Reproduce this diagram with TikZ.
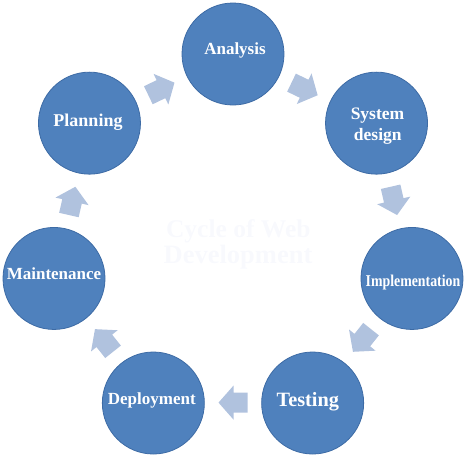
\documentclass[tikz,border=0pt]{standalone}
\usepackage{fontspec}
\usepackage{graphicx}
\usetikzlibrary{calc}
\setmainfont{Liberation Serif}
\definecolor{cfill}{HTML}{4F81BD}
\definecolor{cline}{HTML}{3D6BA5}
\definecolor{afill}{HTML}{B0C2DE}
\definecolor{ctext}{HTML}{F8F9FD}
\tikzset{
  phase/.style={circle, fill=cfill, draw=cline, line width=0.8pt, minimum size=102pt, inner sep=0pt},
  lbl/.style={text=white, font=\bfseries, anchor=base, inner sep=0pt},
  blockarrow/.style={fill=afill, draw=none}
}
\begin{document}
\begin{tikzpicture}[x=1pt,y=-1pt]
\useasboundingbox (0,0) rectangle (467,456);
\coordinate (C) at (233,237.6);
% circles
\node[phase] (analysis) at ($(C)+(-90:183.6)$) {};
\node[phase] (sysdesign) at ($(C)+(-38.571:183.6)$) {};
\node[phase] (impl) at ($(C)+(12.857:183.6)$) {};
\node[phase] (testing) at ($(C)+(64.286:183.6)$) {};
\node[phase] (deploy) at ($(C)+(115.714:183.6)$) {};
\node[phase] (maint) at ($(C)+(167.143:183.6)$) {};
\node[phase] (planning) at ($(C)+(218.571:183.6)$) {};
% block arrows
\foreach \k in {0,...,6}{
  \pgfmathsetmacro{\ang}{-90+51.4286*\k+25.714}
  \begin{scope}[shift={($(C)+(\ang:165)$)}, rotate=-\ang-90]
    \fill[blockarrow] (14.5,0) -- (-0.5,17) -- (-0.5,10) -- (-14.5,10) -- (-14.5,-10) -- (-0.5,-10) -- (-0.5,-17) -- cycle;
  \end{scope}
}
% labels
\node[lbl, font=\bfseries\fontsize{17}{20}\selectfont] (tA) at (235,54) {Analysis};
\node[lbl, font=\bfseries\fontsize{17.5}{20}\selectfont] (tS1) at (377.5,119.3) {System};
\node[lbl, font=\bfseries\fontsize{17.5}{20}\selectfont] (tS2) at (377.8,140) {design};
\node[lbl, font=\bfseries\fontsize{16.5}{20}\selectfont] (tI) at (413,286) {\scalebox{0.84}[1]{Implementation}};
\node[lbl, font=\bfseries\fontsize{20.3}{24}\selectfont] (tT) at (307.8,406) {Testing};
\node[lbl, font=\bfseries\fontsize{17}{20}\selectfont] (tD) at (151.8,404) {Deployment};
\node[lbl, font=\bfseries\fontsize{17}{20}\selectfont] (tM) at (54,279) {Maintenance};
\node[lbl, font=\bfseries\fontsize{18}{20}\selectfont] (tP) at (88,126.7) {Planning};
% centre title
\node[lbl, text=ctext, font=\bfseries\fontsize{25.5}{26}\selectfont] (c1) at (238.3,237) {Cycle of Web};
\node[lbl, text=ctext, font=\bfseries\fontsize{26.5}{26}\selectfont] (c2) at (238,263) {Development};
\end{tikzpicture}
\end{document}
